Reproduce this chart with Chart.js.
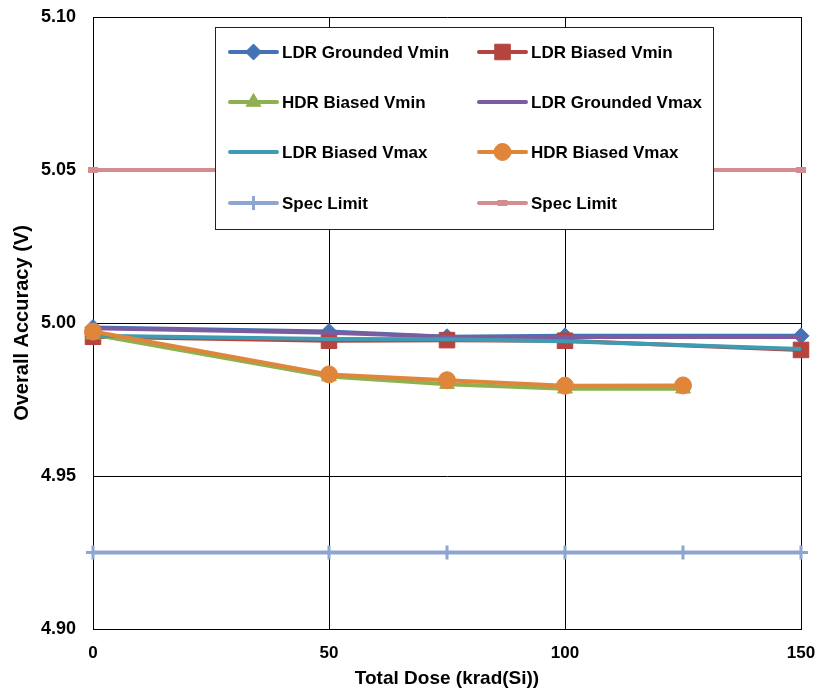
<!DOCTYPE html>
<html><head><meta charset="utf-8">
<script src="https://cdn.jsdelivr.net/npm/chart.js@4"></script>
<style>html,body{margin:0;padding:0;background:#fff}#wrap{width:819px;height:695px;position:relative}</style>
</head><body><div id="wrap"><canvas id="c"></canvas></div>
<script>
const ldrDose = [0, 50, 75, 100, 150];
const hdrDose = [0, 50, 75, 100, 125];
const specDose = [0, 50, 75, 100, 125, 150];
const specHighDose = [0, 150];
const ldrGroundedVmin = [4.9985, 4.9972, 4.9955, 4.9958, 4.9958];
const ldrBiasedVmin   = [4.9955, 4.9942, 4.9944, 4.9942, 4.9912];
const hdrBiasedVmin   = [4.9962, 4.9825, 4.9800, 4.9785, 4.9785];
const ldrGroundedVmax = [4.9983, 4.9968, 4.9955, 4.9954, 4.9954];
const ldrBiasedVmax   = [4.9958, 4.9948, 4.9947, 4.9940, 4.9915];
const hdrBiasedVmax   = [4.9972, 4.9832, 4.9813, 4.9795, 4.9796];
const specLow  = [4.925, 4.925, 4.925, 4.925, 4.925, 4.925];
const specHigh = [5.05, 5.05];
const yTicks = [4.90, 4.95, 5.00, 5.05, 5.10];
const xTicks = [0, 50, 100, 150];

const pts = (xs, ys) => xs.map((x, i) => ({x: x, y: ys[i]}));
const FONT = "'Liberation Sans', Arial, sans-serif";

function ds(label, xs, ys, color, style, radius, extra) {
  return Object.assign({
    label: label, data: pts(xs, ys), borderColor: color, backgroundColor: color,
    borderWidth: 4, pointStyle: style, pointRadius: radius, pointBorderWidth: 1,
    pointBorderColor: color, pointBackgroundColor: color, tension: 0, fill: false,
    clip: false
  }, extra || {});
}

const datasets = [
  ds('LDR Grounded Vmin', ldrDose, ldrGroundedVmin, '#4472b4', 'rectRot', 8),
  ds('LDR Biased Vmin', ldrDose, ldrBiasedVmin, '#b5443f', 'rect', 11),
  ds('HDR Biased Vmin', hdrDose, hdrBiasedVmin, '#8fb050', 'triangle', 8.5),
  ds('LDR Grounded Vmax', ldrDose, ldrGroundedVmax, '#7b5c9e', 'circle', 0),
  ds('LDR Biased Vmax', ldrDose, ldrBiasedVmax, '#3f9bb3', 'circle', 0),
  ds('HDR Biased Vmax', hdrDose, hdrBiasedVmax, '#e0863a', 'circle', 8.5),
  ds('Spec Limit', specDose, specLow, '#8ea6cf', 'cross', 7, {pointBorderWidth: 3}),
  ds('Spec Limit', specHighDose, specHigh, '#d48d8e', 'line', 5, {pointBorderWidth: 6})
];
datasets.forEach((d, i) => { d.order = 20 - i; });

new Chart(document.getElementById('c'), {
  type: 'line',
  data: {datasets: datasets},
  plugins: [{
    id: 'boxLegend',
    afterDraw(chart) {
      const ctx = chart.ctx;
      const L = 215, T = 27, R = 713, B = 229;
      ctx.save();
      ctx.fillStyle = '#fff';
      ctx.fillRect(L, T, R - L, B - T);
      ctx.strokeStyle = '#222';
      ctx.lineWidth = 1;
      ctx.strokeRect(L + 0.5, T + 0.5, R - L, B - T);
      const cols = [230, 479];
      const rows = [52, 102, 152, 203];
      ctx.font = 'bold 17px ' + FONT;
      ctx.textBaseline = 'middle';
      ctx.textAlign = 'left';
      chart.data.datasets.forEach((d, i) => {
        const cx = cols[i % 2], cy = rows[Math.floor(i / 2)];
        ctx.strokeStyle = d.borderColor;
        ctx.lineWidth = 4;
        ctx.lineCap = 'round';
        ctx.beginPath(); ctx.moveTo(cx, cy); ctx.lineTo(cx + 47, cy); ctx.stroke();
        ctx.lineCap = 'butt';
        if (d.pointRadius > 0) {
          ctx.fillStyle = d.pointBackgroundColor;
          ctx.strokeStyle = d.pointBorderColor;
          ctx.lineWidth = d.pointBorderWidth;
          Chart.helpers.drawPoint(ctx, {
            pointStyle: d.pointStyle, radius: d.pointRadius, rotation: 0,
            borderWidth: d.pointBorderWidth
          }, cx + 23.5, cy);
        }
        ctx.fillStyle = '#000';
        ctx.fillText(d.label, cx + 52, cy + 1);
      });
      ctx.restore();
    }
  }],
  options: {
    responsive: true, maintainAspectRatio: false, animation: false,
    layout: {padding: {top: 17, right: 18, left: 0, bottom: 0}},
    plugins: {legend: {display: false}, tooltip: {enabled: false}},
    scales: {
      x: {
        type: 'linear', min: 0, max: 150,
        afterBuildTicks(s) { s.ticks = xTicks.map(v => ({value: v})); },
        grid: {color: '#000', lineWidth: 1, drawTicks: false},
        border: {color: '#000', width: 1},
        ticks: {color: '#000', padding: 14, font: {family: FONT, size: 17, weight: 'bold'}},
        title: {display: true, text: 'Total Dose (krad(Si))', color: '#000',
          font: {family: FONT, size: 19, weight: 'bold'}, padding: {top: 0, bottom: 4.6}},
        afterFit(s) { s.height = 66; s.paddingLeft = 0; s.paddingRight = 0; }
      },
      y: {
        type: 'linear', min: 4.90, max: 5.10,
        afterBuildTicks(s) { s.ticks = yTicks.map(v => ({value: v})); },
        grid: {color: '#000', lineWidth: 1, drawTicks: false},
        border: {color: '#000', width: 1},
        ticks: {color: '#000', padding: 17, font: {family: FONT, size: 18, weight: 'bold'},
          callback: v => Number(v).toFixed(2)},
        title: {display: true, text: 'Overall Accuracy (V)', color: '#000',
          font: {family: FONT, size: 20, weight: 'bold'}, padding: {top: 10, bottom: 0}},
        afterFit(s) { s.width = 93; s.paddingTop = 0; s.paddingBottom = 0; }
      }
    }
  }
});
</script></body></html>
